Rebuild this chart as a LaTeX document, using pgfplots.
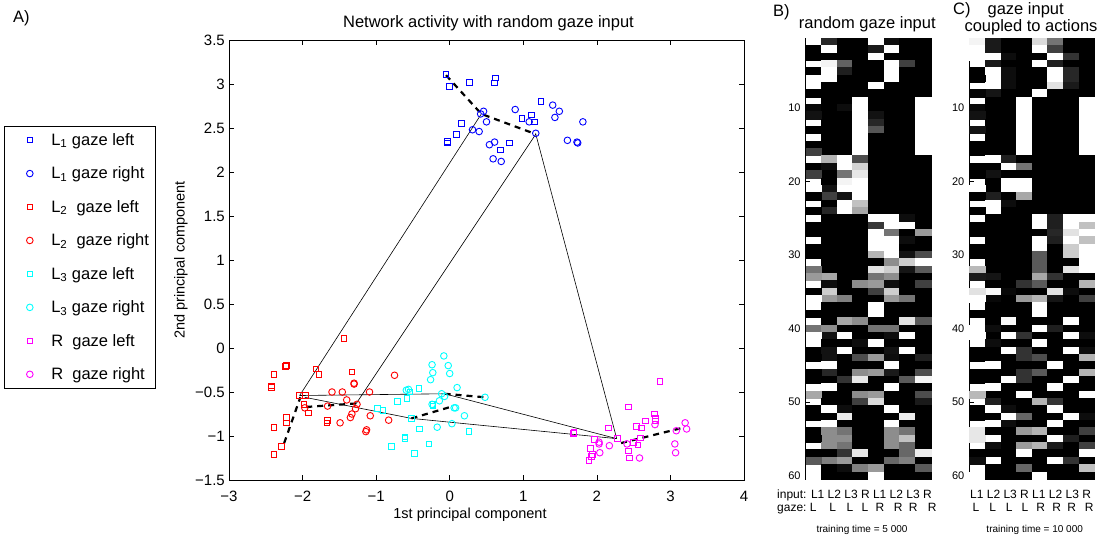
\documentclass[border=0pt]{standalone}
\usepackage{fontspec}
\setmainfont{Liberation Sans}
\usepackage{pgfplots}
\pgfplotsset{compat=1.18}
\definecolor{mblue}{rgb}{0,0,1}
\definecolor{mred}{rgb}{1,0,0}
\definecolor{mcyan}{rgb}{0,1,1}
\definecolor{mmag}{rgb}{1,0,1}
\newcommand\fA{\fontsize{16.5}{19.8}\selectfont}
\newcommand\fB{\fontsize{14.5}{17.4}\selectfont}
\newcommand\fT{\fontsize{15}{18}\selectfont}
\newcommand\fC{\fontsize{12}{14.4}\selectfont}
\newcommand\fD{\fontsize{10}{12}\selectfont}
\newcommand\fE{\fontsize{11}{13.2}\selectfont}
\pgfdeclareplotmark{hmcell}{\pgfpathrectangle{\pgfqpoint{-7.8125pt}{-3.675pt}}{\pgfqpoint{15.625pt}{7.35pt}}\pgfusepathqfillstroke}
\pgfplotsset{
  hm/.style={anchor=south west, scale only axis, width=125pt, height=441pt,
    xmin=0.5, xmax=8.5, ymin=0.5, ymax=60.5, y dir=reverse, enlargelimits=false,
    axis on top, tick align=inside, tick pos=both,
    xtick={2,4,6,8}, xticklabels={},
    ytick={10,20,30,40,50,60}, yticklabels={10,20,30,40,50,60},
    major tick length=4pt,
    yticklabel style={font=\fE, inner sep=0pt, xshift=-5pt},
    every tick/.style={black, line width=0.6pt},
    axis line style={line width=0.7pt},
    colormap={bw}{gray(0cm)=(0); gray(1cm)=(1)},
    point meta min=0, point meta max=1},
  hmcells/.style={scatter, only marks, mark=hmcell, line width=0.3pt,
    point meta=explicit,
    scatter/use mapped color={draw=mapped color, fill=mapped color}},
  sq/.style={only marks, mark=square, mark size=2.8pt, line width=0.9pt},
  ci/.style={only marks, mark=o, mark size=3.3pt, line width=0.9pt},
}
\begin{document}
\begin{tikzpicture}
\useasboundingbox (0pt,0pt) rectangle (1103pt,539pt);
% ---------------- main scatter ----------------
\begin{axis}[
  at={(229pt,59pt)}, anchor=south west, scale only axis,
  width=515pt, height=440pt,
  xmin=-3, xmax=4, ymin=-1.5, ymax=3.5,
  xtick={-3,-2,-1,0,1,2,3,4}, xticklabels={−3,−2,−1,0,1,2,3,4},
  ytick={-1.5,-1,-0.5,0,0.5,1,1.5,2,2.5,3,3.5},
  yticklabels={−1.5,−1,−0.5,0,0.5,1,1.5,2,2.5,3,3.5},
  tick align=inside, tick pos=both, major tick length=5pt,
  tick label style={font=\fT, inner sep=0pt},
  xticklabel style={yshift=-11pt},
  yticklabel style={xshift=-4pt},
  every tick/.style={black, line width=0.6pt},
  axis line style={line width=0.8pt},
  legend cell align=left,
  legend image code/.code={\path (0pt,-3pt) (40pt,3pt); \draw[#1] plot coordinates {(21pt,0pt)};},
  legend style={at={(-0.143,0.8045)}, anchor=north east, draw=black, line width=0.7pt,
    fill=white, font=\fA, row sep=16pt, inner xsep=4pt, inner ysep=5pt},
]
\addplot[sq, mblue] coordinates {(-0.05,3.11) (0.0,2.97) (0.27,3.02) (0.62,3.07) (0.61,3.01) (1.24,2.80) (1.11,2.65) (0.98,2.61) (1.15,2.57) (0.16,2.55) (0.09,2.43) (-0.03,2.35) (-0.03,2.33) (0.81,2.33) (0.69,2.25)};
\addlegendentry{L\textsubscript{1} gaze left}
\addplot[ci, mblue] coordinates {(0.42,2.66) (0.46,2.69) (0.50,2.57) (0.89,2.71) (0.31,2.48) (0.40,2.46) (0.61,2.34) (0.54,2.31) (0.59,2.15) (0.70,2.12) (1.08,2.57) (1.17,2.44) (1.40,2.76) (1.49,2.69) (1.43,2.62) (1.81,2.57) (1.60,2.36) (1.73,2.34) (1.74,2.33)};
\addlegendentry{L\textsubscript{1} gaze right}
\addplot[sq, mred] coordinates {(-1.44,0.11) (-2.23,-0.21) (-2.22,-0.20) (-2.39,-0.30) (-2.42,-0.45) (-2.42,-0.43) (-1.82,-0.24) (-1.78,-0.30) (-1.33,-0.27) (-2.04,-0.54) (-1.96,-0.54) (-1.98,-0.64) (-1.92,-0.74) (-2.22,-0.79) (-2.22,-0.85) (-2.39,-0.90) (-1.66,-0.82) (-1.67,-0.85) (-2.29,-1.12) (-2.39,-1.21)};
\addlegendentry{L\textsubscript{2}\ \ gaze left}
\addplot[ci, mred] coordinates {(-1.60,-0.50) (-1.46,-0.50) (-1.30,-0.41) (-1.30,-0.40) (-1.09,-0.50) (-0.75,-0.31) (-1.40,-0.59) (-1.66,-0.66) (-1.97,-0.68) (-1.26,-0.64) (-1.28,-0.69) (-1.33,-0.75) (-1.35,-0.79) (-1.08,-0.77) (-1.49,-0.85) (-0.83,-0.82) (-1.14,-0.95) (-1.13,-0.93)};
\addlegendentry{L\textsubscript{2}\ \ gaze right}
\addplot[sq, mcyan] coordinates {(-0.42,-0.46) (-0.54,-0.50) (-0.58,-0.57) (-0.71,-0.61) (-0.91,-0.71) (-0.98,-0.69) (-0.23,-0.66) (-0.52,-0.80) (-0.41,-0.92) (0.26,-0.95) (-0.61,-1.01) (-0.61,-1.03) (-0.28,-1.09) (-0.79,-1.12) (-0.48,-1.20) (-0.23,-0.64)};
\addlegendentry{L\textsubscript{3} gaze left}
\addplot[ci, mcyan] coordinates {(-0.08,-0.09) (-0.24,-0.19) (-0.02,-0.20) (-0.23,-0.28) (0.0,-0.29) (-0.26,-0.36) (0.10,-0.45) (-0.59,-0.48) (-0.11,-0.52) (-0.07,-0.55) (-0.14,-0.60) (-0.24,-0.64) (0.06,-0.68) (0.08,-0.68) (0.20,-0.77) (0.48,-0.56) (-0.17,-0.90) (0.03,-0.86) (-0.56,-0.47)};
\addlegendentry{L\textsubscript{3} gaze right}
\addplot[sq, mmag] coordinates {(2.86,-0.38) (2.43,-0.67) (2.78,-0.75) (2.80,-0.83) (2.80,-0.80) (2.66,-0.83) (2.54,-0.89) (2.61,-0.91) (2.16,-0.91) (1.68,-0.97) (1.69,-0.96) (1.97,-1.04) (2.28,-1.03) (2.59,-1.02) (2.50,-1.07) (2.56,-1.10) (1.91,-1.14) (2.43,-1.17) (1.93,-1.23) (1.94,-1.21) (1.89,-1.28) (2.44,-1.25)};
\addlegendentry{R\ \ gaze left}
\addplot[ci, mmag] coordinates {(2.79,-0.87) (3.20,-0.85) (3.22,-0.92) (3.08,-0.94) (2.03,-1.09) (2.17,-1.11) (2.41,-1.09) (2.04,-1.19) (3.06,-1.09) (3.07,-1.19) (2.58,-1.25) (2.03,-1.07)};
\addlegendentry{R\ \ gaze right}
% solid transitions
\addplot[black, line width=0.6pt, forget plot] coordinates {(-2.04,-0.54) (0.43,2.66)};
\addplot[black, line width=0.6pt, forget plot] coordinates {(-1.27,-0.63) (1.17,2.43)};
\addplot[black, line width=0.6pt, forget plot] coordinates {(1.17,2.43) (2.27,-1.03)};
\addplot[black, line width=0.6pt, forget plot] coordinates {(-2.04,-0.54) (-0.07,-0.52) (2.27,-1.03)};
\addplot[black, line width=0.6pt, forget plot] coordinates {(-1.97,-0.56) (-0.52,-0.80) (2.27,-1.03)};
% dashed trajectories
\addplot[black, line width=2.2pt, dash pattern=on 6pt off 5pt, forget plot] coordinates {(-0.05,3.10) (0.43,2.66) (1.17,2.43)};
\addplot[black, line width=2.2pt, dash pattern=on 6pt off 5pt, forget plot] coordinates {(-2.25,-1.08) (-2.03,-0.56)};
\addplot[black, line width=2.2pt, dash pattern=on 6pt off 5pt, forget plot] coordinates {(-1.95,-0.67) (-1.27,-0.63)};
\addplot[black, line width=2.2pt, dash pattern=on 6pt off 5pt, forget plot] coordinates {(-0.52,-0.80) (0.05,-0.66)};
\addplot[black, line width=2.2pt, dash pattern=on 6pt off 5pt, forget plot] coordinates {(-0.07,-0.52) (0.48,-0.56)};
\addplot[black, line width=2.2pt, dash pattern=on 6pt off 5pt, forget plot] coordinates {(2.33,-1.08) (3.20,-0.90)};
\end{axis}
% ---------------- heatmap B ----------------
\begin{axis}[hm, at={(805.7pt,60pt)}]
\addplot[hmcells]
 table[row sep=\\, x expr={mod(\coordindex,8)+1}, y expr={floor(\coordindex/8)+1}, meta=c] {
c\\
1\\0.15\\0\\0\\1\\0.05\\0\\0\\
0\\1\\0\\0\\0.1\\1\\0\\0\\
1\\0\\0\\0\\1\\0\\0\\0\\
0\\0.95\\0.38\\0\\0\\1\\0.25\\0\\
0\\1\\0.12\\0\\0\\1\\0\\0\\
0\\1\\0\\0\\0\\1\\0\\0\\
1\\0\\0\\0\\1\\0\\0\\0\\
0\\0\\0\\0\\0\\0\\0\\0\\
0\\0\\0\\1\\0\\0\\0\\1\\
0.03\\0\\0.05\\1\\0\\0\\0\\1\\
0.07\\0\\0\\1\\0.07\\0\\0\\1\\
0.07\\0\\0\\1\\0.15\\0\\0\\1\\
0.13\\0\\0\\1\\0.33\\0\\0\\1\\
0\\0\\0\\1\\0\\0\\0\\1\\
0\\0\\0\\1\\0\\0\\0\\1\\
0\\0\\0\\1\\0\\0\\0\\1\\
0.25\\0.7\\1\\0.3\\0\\0\\0\\0\\
0\\0.05\\1\\0.82\\0\\0\\0\\0\\
1\\0\\0.45\\0.9\\0\\0\\0\\0\\
0.25\\0\\0.95\\1\\0\\0\\0\\0\\
0.1\\0.07\\1\\1\\0\\0\\0\\0\\
1\\0.25\\0.07\\1\\0\\0\\0\\0\\
0\\0\\1\\0.75\\0\\0\\0\\0\\
0\\0.15\\1\\0.65\\0\\0\\0\\0\\
0\\0\\0\\0\\1\\1\\0.05\\0\\
0\\0\\0\\0\\0.22\\1\\1\\0\\
0\\0\\0\\0\\1\\0.45\\0\\0.6\\
0\\0\\0\\0\\1\\1\\0.05\\0\\
0\\0\\0\\0\\1\\1\\0\\0\\
0\\0\\0\\0\\0.7\\1\\0.07\\0.3\\
0\\0\\0\\0\\0\\0.55\\0.8\\1\\
0\\0\\0\\0\\0.88\\0.8\\0.08\\0.35\\
0.45\\0.65\\0\\0\\0.45\\0.55\\0\\0\\
0.6\\0.05\\0\\0.55\\0.6\\0.05\\0\\0.25\\
0.25\\0.8\\0\\0\\0.25\\0.8\\0\\0\\
0\\0.6\\0.5\\0\\0\\0.6\\0.45\\0\\
1\\0\\0\\0\\1\\0\\0\\0\\
1\\0\\0\\0\\1\\0\\0\\0\\
0\\0\\0.65\\0.55\\0\\0\\0.88\\0.35\\
0.45\\0.55\\0\\0\\0.45\\0.45\\0\\0\\
0\\0.07\\1\\0\\0\\0.05\\1\\0\\
1\\0\\0\\0.05\\1\\0\\0\\0\\
0\\0.07\\1\\0\\0\\0.07\\1\\0\\
0.45\\0.07\\0\\0.3\\0.6\\0.05\\0\\0.12\\
0\\1\\0\\0\\0\\1\\0\\0\\
0.6\\0.15\\0\\0.55\\0.6\\0.1\\0\\0.3\\
0\\0\\0.2\\0.9\\0\\0\\0.35\\0.95\\
0\\1\\0\\0\\0\\1\\0\\0\\
0.45\\0\\0\\0.55\\0.6\\0\\0\\0.3\\
0.65\\0\\0\\0.25\\0.85\\0\\0\\0.1\\
0\\1\\0.05\\0\\0\\1\\0\\0\\
0\\0\\0.92\\0\\0\\0\\0.92\\0\\
0\\1\\0\\0\\0\\1\\0\\0\\
0\\0.55\\0.45\\0\\0\\0.55\\0.45\\0\\
0\\0.55\\0.55\\0\\0\\0.55\\0.75\\0\\
0\\0.55\\0.45\\0\\0\\0.55\\0.4\\0\\
0\\0\\0.2\\0.9\\0\\0\\0.4\\0.92\\
0\\0.5\\0.6\\0\\0\\0.4\\0.5\\0\\
0.35\\0\\0.05\\0.5\\0.6\\0\\0\\0.35\\
1\\0\\0\\0\\1\\0\\0\\0\\
};
\end{axis}
% ---------------- heatmap C ----------------
\begin{axis}[hm, at={(969.5pt,60pt)}]
\addplot[hmcells]
 table[row sep=\\, x expr={mod(\coordindex,8)+1}, y expr={floor(\coordindex/8)+1}, meta=c] {
c\\
0.95\\0.1\\0\\0\\0.85\\0.45\\0\\0\\
1\\0.1\\0\\0\\1\\0.25\\0\\0\\
0\\1\\0.05\\0\\0\\1\\0.2\\0\\
1\\0.1\\0\\0\\1\\0.12\\0\\0\\
0\\1\\0.05\\0\\0\\1\\0.15\\0\\
0\\1\\0.05\\0\\0\\1\\0.15\\0\\
0\\1\\0.05\\0\\0\\0.88\\0.1\\0\\
1\\0.08\\0\\0\\1\\0\\0\\0\\
0.02\\0\\0\\1\\0\\0\\0\\1\\
0.03\\0\\0\\1\\0\\0\\0\\1\\
0.05\\0\\0\\1\\0\\0\\0\\1\\
0.07\\0\\0\\1\\0\\0\\0\\1\\
0\\0\\0\\1\\0\\0\\0\\1\\
0.07\\0\\0\\1\\0\\0\\0\\1\\
0\\0\\0\\1\\0\\0\\0\\1\\
0\\0\\0\\1\\0\\0\\0\\1\\
0\\1\\0.12\\0\\0\\0\\0\\0\\
0\\0\\1\\0.45\\0\\0\\0\\0\\
1\\0.07\\0\\0\\0\\0\\0\\0\\
0\\0\\1\\1\\0\\0\\0\\0\\
0\\0\\1\\1\\0\\0\\0\\0\\
1\\0.12\\0\\0.65\\0\\0\\0\\0\\
0\\1\\0.05\\0\\0\\0\\0\\0\\
0\\1\\0\\0\\0\\0\\0\\0\\
0\\0\\0\\0\\1\\0.12\\1\\1\\
0\\0\\0\\0\\1\\0.12\\1\\0.75\\
0\\0\\0\\0\\0\\0.15\\0.88\\1\\
0\\0\\0\\0\\1\\0.12\\1\\0.75\\
0\\0\\0\\0\\1\\0\\0.8\\1\\
0\\0\\0\\0\\0.35\\0\\0.8\\1\\
0\\0\\0\\0\\0.35\\0\\0\\1\\
0\\0\\0\\0\\0.35\\0\\0.88\\1\\
0.72\\0.08\\0\\0\\0.65\\0.2\\0\\0\\
0.1\\0\\0\\0.2\\0.35\\0\\0\\0.7\\
0\\0.97\\0.03\\0\\0\\0.88\\0.05\\0\\
0.88\\0.03\\0\\0.6\\0.7\\0.08\\0\\0.25\\
1\\0\\0\\0\\1\\0\\0\\0\\
1\\0\\0\\0\\1\\0\\0\\0\\
0\\0\\0.97\\0\\0\\0\\1\\0\\
1\\0.05\\0\\0\\1\\0.12\\0\\0\\
0\\0\\1\\0.2\\0\\0\\1\\0.05\\
1\\0.05\\0\\0\\1\\0\\0\\0\\
0\\0\\1\\0.2\\0\\0\\1\\0.05\\
0.1\\0\\0\\0.2\\0.3\\0\\0\\0.7\\
0\\1\\0\\0\\0\\1\\0\\0\\
0.1\\0\\0\\0.2\\0.35\\0\\0\\0.7\\
0\\0\\1\\0.2\\0\\0\\1\\0\\
0\\1\\0\\0\\0\\1\\0\\0\\
0\\0\\0\\1\\0\\0\\0\\1\\
0.72\\0.12\\0\\0\\0.7\\0.2\\0\\0\\
0\\1\\0.05\\0\\0\\1\\0\\0\\
0\\0\\1\\0.4\\0\\0\\1\\0.05\\
0\\1\\0.05\\0\\0\\1\\0\\0\\
0.9\\0\\0\\0.6\\0.7\\0\\0\\0.25\\
0\\1\\0\\0\\0\\1\\0.12\\0\\
0.9\\0.05\\0\\0.6\\0.7\\0.1\\0\\0.25\\
0\\0\\0\\1\\0\\0\\0\\1\\
0\\1\\0\\0\\0\\1\\0.2\\0\\
0.05\\0\\0\\0.4\\0\\0\\0\\0.75\\
1\\0\\0\\0\\1\\0\\0\\0\\
};
\end{axis}
% ---------------- texts ----------------
\node[anchor=base west, inner sep=0pt, font=\fA] at (13pt,516.5pt) {A)};
\node[anchor=base, inner sep=0pt, font=\fA] at (488.5pt,511pt) {Network activity with random gaze input};
\node[anchor=base, inner sep=0pt, font=\fB] at (470pt,21pt) {1st principal component};
\node[anchor=base, rotate=90, inner sep=0pt, font=\fB] at (184.5pt,279pt) {2nd principal component};
\node[anchor=base west, inner sep=0pt, font=\fA] at (773pt,522.3pt) {B)};
\node[anchor=base, inner sep=0pt, font=\fA] at (867.3pt,510.7pt) {random gaze input};
\node[anchor=base west, inner sep=0pt, font=\fA] at (953pt,524pt) {C)};
\node[anchor=base, inner sep=0pt, font=\fA] at (1025.7pt,524.5pt) {gaze input};
\node[anchor=base, inner sep=0pt, font=\fA] at (1031pt,507pt) {coupled to actions};
\node[anchor=base west, inner sep=0pt, font=\fC] at (777pt,40.7pt) {input: L1 L2 L3 R L1 L2 L3 R};
\node[anchor=base west, inner sep=0pt, font=\fC] at (777pt,27.3pt) {gaze:};
\foreach \xx/\tt in {813.3/L,832.7/L,850/L,865/L,880/R,898.3/R,913.3/R,932.3/R}
  \node[anchor=base, inner sep=0pt, font=\fC] at (\xx pt,27.3pt) {\tt};
\node[anchor=base west, inner sep=0pt, font=\fC] at (970pt,40.7pt) {L1 L2 L3 R L1 L2 L3 R};
\foreach \xx/\tt in {976/L,992.7/L,1009.3/L,1025/L,1040.7/R,1056.7/R,1071.7/R,1089.3/R}
  \node[anchor=base, inner sep=0pt, font=\fC] at (\xx pt,27.3pt) {\tt};
\node[anchor=base, inner sep=0pt, font=\fD] at (862pt,6.7pt) {training time = 5 000};
\node[anchor=base, inner sep=0pt, font=\fD] at (1034.7pt,6.7pt) {training time = 10 000};
\end{tikzpicture}
\end{document}
